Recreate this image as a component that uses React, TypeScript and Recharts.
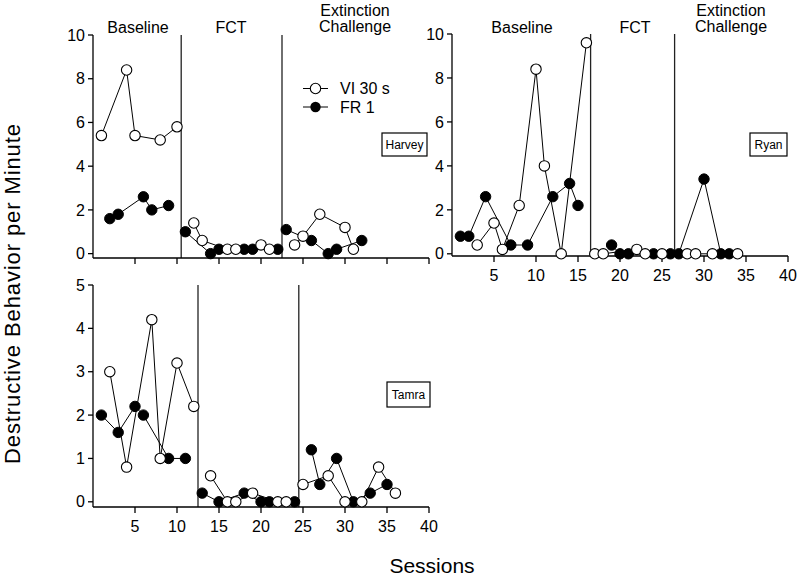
import { ScatterChart, Scatter, XAxis, YAxis, ReferenceLine } from "recharts";

type Pt = { s: number; v: number };

const font = "'Liberation Sans', Arial, Helvetica, sans-serif";

// tick labels
const sessionTicks = [5, 10, 15, 20, 25, 30, 35, 40];
const tenTicks = [0, 2, 4, 6, 8, 10];
const fiveTicks = [0, 1, 2, 3, 4, 5];

// Harvey
const harveyViBaseline: Pt[] = [{ s: 1, v: 5.4 }, { s: 4, v: 8.4 }, { s: 5, v: 5.4 }, { s: 8, v: 5.2 }, { s: 10, v: 5.8 }];
const harveyFrBaseline: Pt[] = [{ s: 2, v: 1.6 }, { s: 3, v: 1.8 }, { s: 6, v: 2.6 }, { s: 7, v: 2.0 }, { s: 9, v: 2.2 }];
const harveyViFct: Pt[] = [{ s: 12, v: 1.4 }, { s: 13, v: 0.6 }, { s: 16, v: 0.2 }, { s: 17, v: 0.2 }, { s: 20, v: 0.4 }, { s: 21, v: 0.2 }];
const harveyFrFct: Pt[] = [{ s: 11, v: 1.0 }, { s: 14, v: 0 }, { s: 15, v: 0.2 }, { s: 18, v: 0.2 }, { s: 19, v: 0.2 }, { s: 22, v: 0.2 }];
const harveyViExt: Pt[] = [{ s: 24, v: 0.4 }, { s: 25, v: 0.8 }, { s: 27, v: 1.8 }, { s: 30, v: 1.2 }, { s: 31, v: 0.2 }];
const harveyFrExt: Pt[] = [{ s: 23, v: 1.1 }, { s: 26, v: 0.6 }, { s: 28, v: 0 }, { s: 29, v: 0.2 }, { s: 32, v: 0.6 }];
const harveyPhases = [10.5, 22.5];

// Ryan
const ryanViBaseline: Pt[] = [{ s: 3, v: 0.4 }, { s: 5, v: 1.4 }, { s: 6, v: 0.2 }, { s: 8, v: 2.2 }, { s: 10, v: 8.4 }, { s: 11, v: 4.0 }, { s: 13, v: 0 }, { s: 16, v: 9.6 }];
const ryanFrBaseline: Pt[] = [{ s: 1, v: 0.8 }, { s: 2, v: 0.8 }, { s: 4, v: 2.6 }, { s: 7, v: 0.4 }, { s: 9, v: 0.4 }, { s: 12, v: 2.6 }, { s: 14, v: 3.2 }, { s: 15, v: 2.2 }];
const ryanViFct: Pt[] = [{ s: 17, v: 0 }, { s: 18, v: 0 }, { s: 22, v: 0.2 }, { s: 23, v: 0 }, { s: 25, v: 0 }];
const ryanFrFct: Pt[] = [{ s: 19, v: 0.4 }, { s: 20, v: 0 }, { s: 21, v: 0 }, { s: 24, v: 0 }, { s: 26, v: 0 }];
const ryanViExt: Pt[] = [{ s: 28, v: 0 }, { s: 29, v: 0 }, { s: 31, v: 0 }, { s: 34, v: 0 }];
const ryanFrExt: Pt[] = [{ s: 27, v: 0 }, { s: 30, v: 3.4 }, { s: 32, v: 0 }, { s: 33, v: 0 }];
const ryanPhases = [16.5, 26.5];

// Tamra
const tamraViBaseline: Pt[] = [{ s: 2, v: 3.0 }, { s: 4, v: 0.8 }, { s: 7, v: 4.2 }, { s: 8, v: 1.0 }, { s: 10, v: 3.2 }, { s: 12, v: 2.2 }];
const tamraFrBaseline: Pt[] = [{ s: 1, v: 2.0 }, { s: 3, v: 1.6 }, { s: 5, v: 2.2 }, { s: 6, v: 2.0 }, { s: 9, v: 1.0 }, { s: 11, v: 1.0 }];
const tamraViFct: Pt[] = [{ s: 14, v: 0.6 }, { s: 16, v: 0 }, { s: 17, v: 0 }, { s: 19, v: 0.2 }, { s: 22, v: 0 }, { s: 23, v: 0 }];
const tamraFrFct: Pt[] = [{ s: 13, v: 0.2 }, { s: 15, v: 0 }, { s: 18, v: 0.2 }, { s: 20, v: 0 }, { s: 21, v: 0 }, { s: 24, v: 0 }];
const tamraViExt: Pt[] = [{ s: 25, v: 0.4 }, { s: 28, v: 0.6 }, { s: 30, v: 0 }, { s: 32, v: 0 }, { s: 34, v: 0.8 }, { s: 36, v: 0.2 }];
const tamraFrExt: Pt[] = [{ s: 26, v: 1.2 }, { s: 27, v: 0.4 }, { s: 29, v: 1.0 }, { s: 31, v: 0 }, { s: 33, v: 0.2 }, { s: 35, v: 0.4 }];
const tamraPhases = [12.5, 24.5];

const OpenDot = (p: any) => (
    <circle cx={p.cx} cy={p.cy} r={5.2} fill="#fff" stroke="#000" strokeWidth={1.1} />
);
const FilledDot = (p: any) => (
    <circle cx={p.cx} cy={p.cy} r={5.2} fill="#000" stroke="#000" strokeWidth={1} />
);

const axisStroke = { stroke: "#000", strokeWidth: 1.3 };

function Panel(props: {
    left: number;
    top: number;
    plotH: number;
    yDomain: [number, number];
    yTicks: number[];
    phases: number[];
    vi: Pt[][];
    fr: Pt[][];
    xLabels: boolean;
}) {
    const yw = 60, mt = 10, mr = 12, xh = 40, plotW = 336;
    return (
        <div style={{ position: "absolute", left: props.left - yw, top: props.top - mt }}>
            <ScatterChart
                width={yw + plotW + mr}
                height={mt + props.plotH + xh}
                margin={{ top: mt, right: mr, bottom: 0, left: 0 }}
            >
                <XAxis
                    type="number"
                    dataKey="s"
                    domain={[0, 40]}
                    ticks={sessionTicks}
                    interval={0}
                    height={xh}
                    tickSize={6}
                    tickMargin={8}
                    axisLine={axisStroke}
                    tickLine={axisStroke}
                    tick={{ fill: "#000", fontSize: 16, fontFamily: font }}
                    tickFormatter={(t: number) => (props.xLabels ? String(t) : "")}
                />
                <YAxis
                    type="number"
                    dataKey="v"
                    domain={props.yDomain}
                    ticks={props.yTicks}
                    interval={0}
                    width={yw}
                    tickSize={5}
                    tickMargin={3}
                    axisLine={axisStroke}
                    tickLine={axisStroke}
                    tick={{ fill: "#000", fontSize: 16, fontFamily: font }}
                />
                {props.phases.map((x) => (
                    <ReferenceLine key={`ph-${x}`} x={x} stroke="#222" strokeWidth={1.3} />
                ))}
                {props.fr.map((seg, i) => (
                    <Scatter
                        key={`fr-${i}`}
                        data={seg}
                        line={{ stroke: "#000", strokeWidth: 1 }}
                        shape={FilledDot}
                        isAnimationActive={false}
                    />
                ))}
                {props.vi.map((seg, i) => (
                    <Scatter
                        key={`vi-${i}`}
                        data={seg}
                        line={{ stroke: "#000", strokeWidth: 1 }}
                        shape={OpenDot}
                        isAnimationActive={false}
                    />
                ))}
            </ScatterChart>
        </div>
    );
}

const txt = { fontFamily: font, fill: "#000" };

export default function App() {
    return (
        <div style={{ position: "absolute", left: 0, top: 0, width: 800, height: 576, background: "#fff" }}>
            <Panel
                left={93}
                top={35}
                plotH={223}
                yDomain={[-0.2, 10]}
                yTicks={tenTicks}
                phases={harveyPhases}
                vi={[harveyViBaseline, harveyViFct, harveyViExt]}
                fr={[harveyFrBaseline, harveyFrFct, harveyFrExt]}
                xLabels={false}
            />
            <Panel
                left={452}
                top={34}
                plotH={222}
                yDomain={[-0.1, 10]}
                yTicks={tenTicks}
                phases={ryanPhases}
                vi={[ryanViBaseline, ryanViFct, ryanViExt]}
                fr={[ryanFrBaseline, ryanFrFct, ryanFrExt]}
                xLabels={true}
            />
            <Panel
                left={93}
                top={285}
                plotH={222}
                yDomain={[-0.12, 5]}
                yTicks={fiveTicks}
                phases={tamraPhases}
                vi={[tamraViBaseline, tamraViFct, tamraViExt]}
                fr={[tamraFrBaseline, tamraFrFct, tamraFrExt]}
                xLabels={true}
            />
            <svg
                width={800}
                height={576}
                style={{ position: "absolute", left: 0, top: 0, pointerEvents: "none" }}
            >
                {/* phase titles */}
                <g {...txt} fontSize={16} textAnchor="middle">
                    <text x={138} y={33}>Baseline</text>
                    <text x={231} y={33}>FCT</text>
                    <text x={355} y={16}>Extinction</text>
                    <text x={355} y={32}>Challenge</text>
                    <text x={522} y={33}>Baseline</text>
                    <text x={635} y={33}>FCT</text>
                    <text x={731} y={16}>Extinction</text>
                    <text x={731} y={32}>Challenge</text>
                </g>
                {/* legend */}
                <line x1={303} x2={328} y1={88.5} y2={88.5} stroke="#000" strokeWidth={1} />
                <circle cx={315.5} cy={88.5} r={5.2} fill="#fff" stroke="#000" strokeWidth={1.1} />
                <line x1={303} x2={328} y1={107} y2={107} stroke="#000" strokeWidth={1} />
                <circle cx={315.5} cy={107} r={5.2} fill="#000" />
                <text x={340} y={94} fontSize={16} {...txt}>VI 30 s</text>
                <text x={340} y={112.5} fontSize={16} {...txt}>FR 1</text>
                {/* subject name boxes */}
                <rect x={382} y={133} width={45} height={23} fill="#fff" stroke="#000" strokeWidth={1.2} />
                <text x={404.5} y={148.5} fontSize={12} textAnchor="middle" {...txt}>Harvey</text>
                <rect x={750} y={133} width={37} height={23} fill="#fff" stroke="#000" strokeWidth={1.2} />
                <text x={768.5} y={148.5} fontSize={12} textAnchor="middle" {...txt}>Ryan</text>
                <rect x={387} y={382} width={43} height={25} fill="#fff" stroke="#000" strokeWidth={1.2} />
                <text x={408.5} y={398.5} fontSize={12} textAnchor="middle" {...txt}>Tamra</text>
                {/* axis titles */}
                <text
                    transform="translate(20, 294) rotate(-90)"
                    fontSize={22}
                    textAnchor="middle"
                    textLength={340}
                    lengthAdjust="spacing"
                    {...txt}
                >
                    Destructive Behavior per Minute
                </text>
                <text x={432} y={573} fontSize={21} textAnchor="middle" {...txt}>Sessions</text>
            </svg>
        </div>
    );
}
